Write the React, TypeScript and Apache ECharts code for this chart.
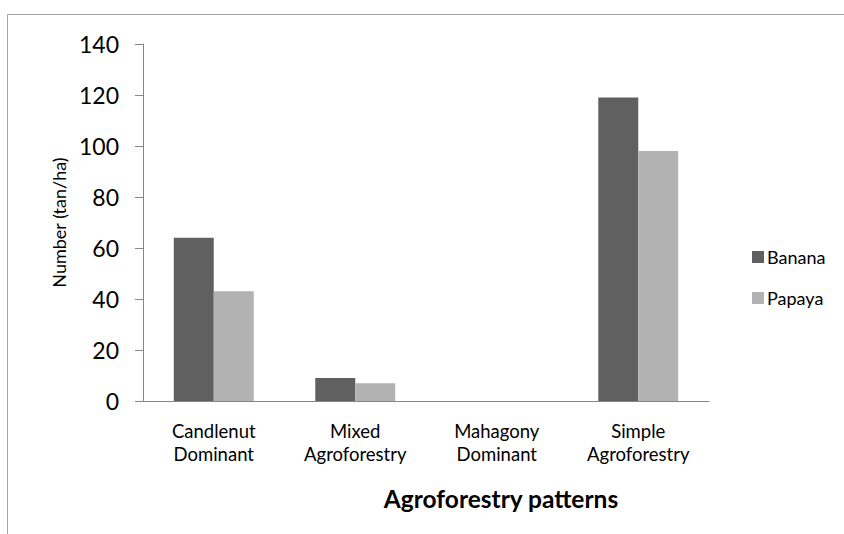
import React, { useEffect, useRef } from "react";
import * as echarts from "echarts";

const categories = ["Candlenut\nDominant", "Mixed\nAgroforestry", "Mahagony\nDominant", "Simple\nAgroforestry"];
const banana = [64, 9, 0, 119];
const papaya = [43, 7, 0, 98];
const yTicks = [0, 20, 40, 60, 80, 100, 120, 140];

const FONT = "Lato, 'Open Sans', sans-serif";

export default function App() {
  const ref = useRef<HTMLDivElement>(null);
  useEffect(() => {
    if (!ref.current) return;
    const chart = echarts.init(ref.current, null, { renderer: "svg" });
    chart.setOption({
      animation: false,
      backgroundColor: "#ffffff",
      textStyle: { fontFamily: FONT, color: "#000" },
      grid: { left: 143, right: 135, top: 44, bottom: 133 },
      graphic: [
        {
          type: "rect",
          shape: { x: 7.5, y: 14.5, width: 900, height: 600 },
          style: { fill: "none", stroke: "#a6a6a6", lineWidth: 1 },
          silent: true,
        },
        {
          type: "text",
          x: 501,
          y: 498,
          style: {
            text: "Agroforestry patterns",
            fontFamily: FONT,
            fontWeight: "bold",
            fontSize: 24.5,
            fill: "#000",
            align: "center",
            verticalAlign: "middle",
          },
        },
      ],
      legend: {
        orient: "vertical",
        left: 747,
        top: 243,
        itemWidth: 12,
        itemHeight: 12,
        itemGap: 23,
        icon: "rect",
        textStyle: { fontFamily: FONT, fontSize: 18, color: "#000", padding: [0, 0, 0, -2] },
        data: ["Banana", "Papaya"],
      },
      xAxis: {
        type: "category",
        data: categories,
        axisLine: { show: true, lineStyle: { color: "#868686", width: 1 } },
        axisTick: { show: false },
        axisLabel: {
          fontFamily: FONT,
          fontSize: 18.5,
          color: "#000",
          margin: 18,
          lineHeight: 23,
          interval: 0,
        },
      },
      yAxis: {
        type: "value",
        min: 0,
        max: 140,
        interval: 20,
        name: "Number (tan/ha)",
        nameLocation: "middle",
        nameGap: 73,
        nameTextStyle: { fontFamily: FONT, fontSize: 18, color: "#000" },
        axisLine: { show: true, lineStyle: { color: "#868686", width: 1 } },
        axisTick: { show: true, length: 8, inside: false, lineStyle: { color: "#868686" } },
        splitLine: { show: false },
        axisLabel: {
          fontFamily: FONT,
          fontSize: 23,
          color: "#000",
          margin: 24,
          formatter: (v: number) => (yTicks.includes(v) ? String(v) : ""),
        },
      },
      series: [
        {
          name: "Banana",
          type: "bar",
          data: banana,
          barGap: "0%",
          barCategoryGap: "43.5%",
          itemStyle: { color: "#606060" },
        },
        {
          name: "Papaya",
          type: "bar",
          data: papaya,
          barGap: "0%",
          barCategoryGap: "43.5%",
          itemStyle: { color: "#b2b2b2" },
        },
      ],
    });
    return () => chart.dispose();
  }, []);
  return (
    <div
      ref={ref}
      style={{ position: "fixed", left: 0, top: 0, width: 844, height: 534 }}
    />
  );
}
